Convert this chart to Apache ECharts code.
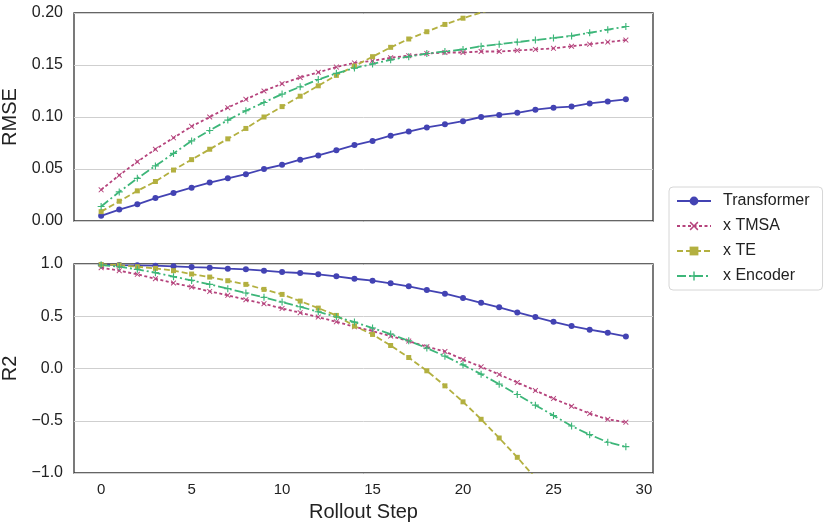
<!DOCTYPE html>
<html lang="en">
<head>
  <meta charset="UTF-8">
  <title>Rollout RMSE / R2</title>
  <script src="https://cdn.jsdelivr.net/npm/echarts@6/dist/echarts.min.js"></script>
  <style>
    * { margin: 0; padding: 0; }
    body { background: #fff; }
    #main { width: 831px; height: 530px; }
  </style>
</head>
<body>
  <div id="main"></div>
  <script>
    // rollout steps 0..29
    var steps = [0,1,2,3,4,5,6,7,8,9,10,11,12,13,14,15,16,17,18,19,20,21,22,23,24,25,26,27,28,29];
    var names = ['Transformer', 'x TMSA', 'x TE', 'x Encoder'];
    var xTicks = [0, 5, 10, 15, 20, 25, 30];

    // RMSE (top panel)
    var rmseTransformer = [0.005,0.011,0.016,0.022,0.027,0.032,0.037,0.041,0.045,0.050,0.054,0.059,0.063,0.068,0.073,0.077,0.082,0.086,0.090,0.093,0.096,0.100,0.102,0.104,0.107,0.109,0.110,0.113,0.115,0.117];
    var rmseTMSA = [0.030,0.044,0.057,0.069,0.080,0.091,0.100,0.109,0.117,0.125,0.132,0.138,0.143,0.148,0.152,0.154,0.157,0.159,0.161,0.162,0.162,0.163,0.163,0.164,0.165,0.166,0.168,0.170,0.172,0.174];
    var rmseTE = [0.009,0.019,0.029,0.038,0.049,0.059,0.069,0.079,0.089,0.100,0.110,0.120,0.130,0.140,0.149,0.158,0.167,0.175,0.182,0.189,0.195,0.2005,0.205,0.209,0.213,0.216,0.219,0.222,0.225,0.227];
    var rmseEncoder = [0.014,0.028,0.041,0.053,0.065,0.077,0.087,0.097,0.106,0.114,0.122,0.129,0.136,0.142,0.147,0.151,0.155,0.158,0.161,0.163,0.165,0.168,0.170,0.172,0.174,0.176,0.178,0.181,0.184,0.187];

    // R2 (bottom panel)
    var r2Transformer = [0.994,0.990,0.987,0.984,0.978,0.971,0.965,0.955,0.949,0.936,0.923,0.914,0.901,0.882,0.859,0.840,0.815,0.786,0.751,0.716,0.674,0.629,0.585,0.537,0.492,0.447,0.406,0.371,0.342,0.307];
    var r2TMSA = [0.965,0.936,0.901,0.859,0.818,0.780,0.738,0.700,0.658,0.620,0.575,0.534,0.492,0.447,0.399,0.358,0.310,0.262,0.208,0.163,0.086,0.016,-0.057,-0.134,-0.211,-0.288,-0.361,-0.431,-0.486,-0.514];
    var r2TE = [0.995,0.990,0.974,0.958,0.936,0.904,0.875,0.840,0.805,0.757,0.709,0.645,0.578,0.508,0.406,0.326,0.220,0.105,-0.022,-0.166,-0.319,-0.486,-0.665,-0.850,-1.047,-1.25,-1.45,-1.65,-1.85,-2.05];
    var r2Encoder = [0.990,0.974,0.949,0.917,0.879,0.843,0.805,0.764,0.722,0.681,0.636,0.591,0.543,0.495,0.444,0.387,0.329,0.265,0.195,0.118,0.035,-0.054,-0.150,-0.249,-0.351,-0.450,-0.550,-0.633,-0.706,-0.748];

    var colors = ['#4343b3', '#b5437c', '#b3b040', '#3db679'];
    var dashes = ['solid', [3, 2.5], [6, 3], [9, 3, 2, 3]];
    var symbols = [
      'circle',
      'path://M0,1.2L1.2,0L5,3.8L8.8,0L10,1.2L6.2,5L10,8.8L8.8,10L5,6.2L1.2,10L0,8.8L3.8,5Z',
      'rect',
      'path://M4.2,0H5.8V4.2H10V5.8H5.8V10H4.2V5.8H0V4.2H4.2Z'
    ];
    var symbolSizes = [6, 5.5, 5, 7];

    var font = "'Liberation Sans', Arial, sans-serif";

    function pairs(ys) {
      return steps.map(function (s, i) { return [s, ys[i]]; });
    }

    function makeSeries(values, axisIndex) {
      return values.map(function (ys, k) {
        return {
          name: names[k],
          type: 'line',
          xAxisIndex: axisIndex,
          yAxisIndex: axisIndex,
          data: pairs(ys),
          clip: true,
          symbol: symbols[k],
          symbolSize: symbolSizes[k],
          showAllSymbol: true,
          color: colors[k],
          lineStyle: { width: 1.8, type: dashes[k], color: colors[k] },
          itemStyle: { color: colors[k] },
          emphasis: { disabled: true }
        };
      });
    }

    function xAxis(idx, withLabels) {
      return {
        type: 'value',
        gridIndex: idx,
        min: -1.5,
        max: 30.5,
        axisLine: { show: false },
        axisTick: { show: false },
        splitLine: { show: false },
        axisLabel: {
          show: withLabels,
          customValues: xTicks,
          color: '#222',
          fontSize: 15,
          fontFamily: font,
          margin: 9
        },
        name: withLabels ? 'Rollout Step' : '',
        nameLocation: 'middle',
        nameGap: 29,
        nameTextStyle: { fontSize: 20, color: '#222', fontFamily: font }
      };
    }

    function minusFmt(digits) {
      return function (v) { return v.toFixed(digits).replace('-', '\u2212'); };
    }

    var myChart = echarts.init(document.getElementById('main'));
    var option = {
      animation: false,
      backgroundColor: '#fff',
      grid: [
        { left: 74, right: 178, top: 13, height: 208, show: true, borderColor: '#333', borderWidth: 1.3, outerBoundsMode: 'none' },
        { left: 74, right: 178, top: 264, height: 209, show: true, borderColor: '#333', borderWidth: 1.3, outerBoundsMode: 'none' }
      ],
      xAxis: [xAxis(0, false), xAxis(1, true)],
      yAxis: [
        {
          type: 'value', gridIndex: 0, min: 0, max: 0.2, interval: 0.05,
          axisLine: { show: false }, axisTick: { show: false },
          splitLine: { lineStyle: { color: '#cfcfcf', width: 1 } },
          axisLabel: { color: '#222', fontSize: 16, fontFamily: font, margin: 11, formatter: minusFmt(2) },
          name: 'RMSE', nameLocation: 'middle', nameGap: 43,
          nameTextStyle: { fontSize: 20, color: '#222', fontFamily: font }
        },
        {
          type: 'value', gridIndex: 1, min: -1, max: 1, interval: 0.5,
          axisLine: { show: false }, axisTick: { show: false },
          splitLine: { lineStyle: { color: '#cfcfcf', width: 1 } },
          axisLabel: { color: '#222', fontSize: 16, fontFamily: font, margin: 11, formatter: minusFmt(1) },
          name: 'R2', nameLocation: 'middle', nameGap: 43,
          nameTextStyle: { fontSize: 20, color: '#222', fontFamily: font }
        }
      ],
      legend: {
        data: names,
        orient: 'vertical',
        left: 669,
        top: 187,
        padding: [6, 13, 6, 7],
        itemGap: 9,
        itemWidth: 34,
        itemHeight: 11,
        borderColor: '#d6d6d6',
        borderWidth: 1,
        borderRadius: 4,
        textStyle: { fontSize: 16, color: '#222', fontFamily: font, padding: [0, 0, 0, 7] }
      },
      series: makeSeries([rmseTransformer, rmseTMSA, rmseTE, rmseEncoder], 0)
        .concat(makeSeries([r2Transformer, r2TMSA, r2TE, r2Encoder], 1))
    };
    myChart.setOption(option);
  </script>
</body>
</html>
